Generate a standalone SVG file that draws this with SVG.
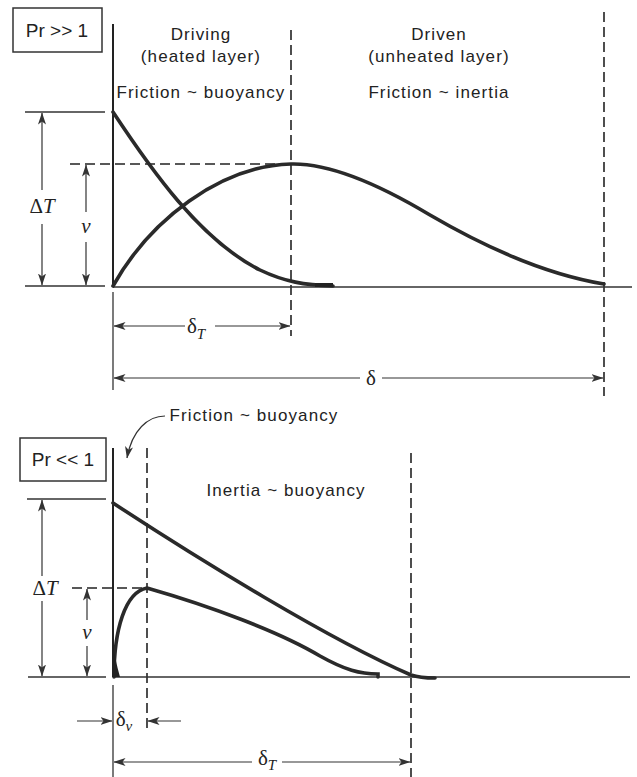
<svg xmlns="http://www.w3.org/2000/svg" width="637" height="777" viewBox="0 0 637 777">
<style>
.t{font-family:"Liberation Sans",Arial,sans-serif;font-size:17px;letter-spacing:1.1px;fill:#222;text-anchor:middle}
.p{font-family:"Liberation Sans",Arial,sans-serif;font-size:19px;fill:#222;text-anchor:middle}
.m{font-family:"Liberation Serif","Times New Roman",serif;font-size:21px;fill:#222;text-anchor:middle}
.ln{stroke:#333;stroke-width:1.3;fill:none}
.ax{stroke:#222;stroke-width:2;fill:none}
.ds{stroke:#222;stroke-width:1.6;fill:none;stroke-dasharray:10 5}
.cv{stroke:#2a2a2a;stroke-width:3.6;fill:none;stroke-linecap:round}
.bx{stroke:#333;stroke-width:1.5;fill:#fff}
.ar{stroke:#333;stroke-width:1.2;fill:none;marker-end:url(#ah)}
</style>
<defs>
<marker id="ah" viewBox="0 0 12 8" refX="11.5" refY="4" markerWidth="12" markerHeight="8" markerUnits="userSpaceOnUse" orient="auto">
<path d="M0,0 L12,4 L0,8 L3,4 Z" fill="#333"/>
</marker>
</defs>
<rect width="637" height="777" fill="#fff"/>

<g id="top-panel">
<g id="pr-high"><rect class="bx" x="13" y="8" width="89" height="44"/><text class="p" x="57" y="37">Pr &gt;&gt; 1</text></g>
<g id="driving-label"><text class="t" x="201" y="40">Driving</text><text class="t" x="201" y="62">(heated layer)</text><text class="t" x="201" y="98">Friction ~ buoyancy</text></g>
<g id="driven-label"><text class="t" x="439" y="40">Driven</text><text class="t" x="439" y="62">(unheated layer)</text><text class="t" x="439" y="98">Friction ~ inertia</text></g>
<g id="top-axes">
<line class="ax" x1="113" y1="24" x2="113" y2="286"/>
<line class="ln" x1="113" y1="292" x2="113" y2="390"/>
<line class="ds" x1="291" y1="30" x2="291" y2="336"/>
<line class="ds" x1="604" y1="12" x2="604" y2="396"/>
<line class="ln" x1="113" y1="287" x2="632" y2="287" style="stroke-width:1.6"/>
<line class="ln" x1="25" y1="112" x2="105" y2="112"/>
<line class="ln" x1="25" y1="286" x2="105" y2="286"/>
<line class="ds" x1="70" y1="164" x2="291" y2="164"/>
</g>
<g id="top-temperature"><path class="cv" d="M113,112 C150,168 200,240 260,270 C285,282 305,285 333,286"/><rect x="315" y="283" width="18" height="4" fill="#222"/></g>
<g id="top-velocity"><path class="cv" d="M113,286 C150,220 220,166 291,164 C330,163 380,185 430,215 C490,250 550,275 604,284"/></g>
</g>

<g id="connectors">
<line class="ar" x1="42" y1="190" x2="42" y2="113"/>
<line class="ar" x1="42" y1="224" x2="42" y2="285"/>
<line class="ar" x1="86" y1="212" x2="86" y2="165"/>
<line class="ar" x1="86" y1="242" x2="86" y2="285"/>
<line class="ar" x1="185" y1="326" x2="114" y2="326"/>
<line class="ar" x1="215" y1="326" x2="290" y2="326"/>
<line class="ar" x1="360" y1="378" x2="114" y2="378"/>
<line class="ar" x1="382" y1="378" x2="603" y2="378"/>
<path class="ar" d="M165,416 C148,416 132,430 127,458"/>
<line class="ar" x1="42" y1="576" x2="42" y2="500"/>
<line class="ar" x1="42" y1="601" x2="42" y2="676"/>
<line class="ar" x1="87" y1="620" x2="87" y2="589"/>
<line class="ar" x1="87" y1="646" x2="87" y2="676"/>
<line class="ar" x1="77" y1="721" x2="112" y2="721"/>
<line class="ar" x1="181" y1="721" x2="148" y2="721"/>
<line class="ar" x1="252" y1="762" x2="114" y2="762"/>
<line class="ar" x1="282" y1="762" x2="410" y2="762"/>
</g>

<g id="top-dims">
<text class="m" x="196" y="333">δ<tspan font-style="italic" font-size="15" dy="6">T</tspan></text>
<text class="m" x="371" y="385">δ</text>
<text class="m" x="42" y="213">Δ<tspan font-style="italic">T</tspan></text>
<text class="m" x="86" y="233" font-style="italic">v</text>
</g>

<g id="bottom-panel">
<g id="friction-note"><text class="t" x="254" y="421">Friction ~ buoyancy</text></g>
<g id="pr-low"><rect class="bx" x="20" y="438" width="86" height="43"/><text class="p" x="63" y="466">Pr &lt;&lt; 1</text></g>
<g id="inertia-label"><text class="t" x="286" y="496">Inertia ~ buoyancy</text></g>
<g id="bottom-axes">
<line class="ax" x1="113" y1="448" x2="113" y2="677"/>
<line class="ln" x1="113" y1="685" x2="113" y2="777"/>
<line class="ds" x1="147" y1="448" x2="147" y2="730"/>
<line class="ds" x1="411" y1="453" x2="411" y2="777"/>
<line class="ln" x1="113" y1="677" x2="630" y2="677" style="stroke-width:1.6"/>
<line class="ln" x1="27" y1="499" x2="106" y2="499"/>
<line class="ln" x1="28" y1="677" x2="106" y2="677"/>
<line class="ds" x1="72" y1="588" x2="147" y2="588"/>
</g>
<g id="bottom-temperature"><path class="cv" d="M113,503 C200,560 330,640 411,675 Q420,678 435,678"/></g>
<g id="bottom-velocity"><path class="cv" d="M114,677 C114,630 125,592 147,588 C210,606 280,632 320,656 C345,670 360,674 378,674 L378,677"/><path d="M112,677 L112,637 Q115,660 120,677 Z" fill="#222"/></g>
<g id="bottom-dims">
<text class="m" x="45" y="595">Δ<tspan font-style="italic">T</tspan></text>
<text class="m" x="87" y="639" font-style="italic">v</text>
<text class="m" x="124" y="726">δ<tspan font-style="italic" font-size="15" dy="5">v</tspan></text>
<text class="m" x="267" y="765">δ<tspan font-style="italic" font-size="15" dy="5">T</tspan></text>
</g>
</g>
</svg>
